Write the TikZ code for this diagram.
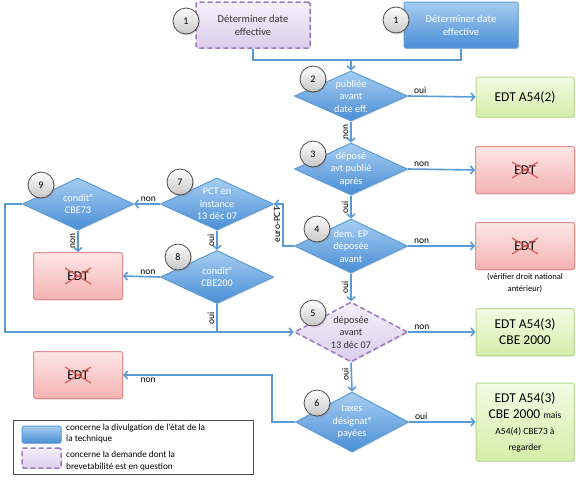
\documentclass[tikz,border=0pt]{standalone}
\usepackage{fontspec}
\setmainfont{Carlito}
\usetikzlibrary{shapes.geometric, arrows.meta, shadows}

\definecolor{bluetop}{HTML}{A6CDF1}
\definecolor{bluebot}{HTML}{4A8ED6}
\definecolor{blueline}{HTML}{5B9BD5}
\definecolor{purpletop}{HTML}{F5EFFA}
\definecolor{purplebot}{HTML}{DCCDEB}
\definecolor{purpleline}{HTML}{9B78C0}
\definecolor{greentop}{HTML}{F4FBE4}
\definecolor{greenbot}{HTML}{D4EDA9}
\definecolor{greenline}{HTML}{B6DA8C}
\definecolor{redtop}{HTML}{FDE7E7}
\definecolor{redbot}{HTML}{F4B2B2}
\definecolor{redline}{HTML}{E58E8E}
\definecolor{crossred}{HTML}{D9534F}

\newcommand\smallfont{\fontsize{9.5}{12.5}\selectfont}

\tikzset{
  shade/.style={drop shadow={opacity=0.2, shadow xshift=1.2pt, shadow yshift=-1.2pt}},
  box/.style={rectangle, rounded corners=1.5pt, line width=1pt, inner sep=0pt, align=center, shade},
  bbox/.style={box, draw=blueline, top color=bluetop, bottom color=bluebot, text=white,
    minimum width=114pt, minimum height=46pt, font=\fontsize{10.5}{13}\selectfont},
  pbox/.style={box, draw=purpleline, dashed, dash pattern=on 5pt off 3pt, line width=1.5pt,
    top color=purpletop, bottom color=purplebot, text=black!80,
    minimum width=114pt, minimum height=46pt, font=\fontsize{10.5}{13}\selectfont},
  okbox/.style={box, draw=greenline, top color=greentop, bottom color=greenbot,
    minimum width=98pt, font=\fontsize{13.5}{16}\selectfont},
  nobox/.style={box, draw=redline, top color=redtop, bottom color=redbot,
    minimum height=47pt, font=\fontsize{13.5}{16}\selectfont},
  decision/.style={diamond, draw=blueline, line width=1pt, top color=bluetop, bottom color=bluebot,
    minimum width=113pt, inner sep=0pt, shade},
  pdecision/.style={decision, draw=purpleline, dashed, dash pattern=on 5pt off 3pt, line width=1.5pt,
    top color=purpletop, bottom color=purplebot},
  dtext/.style={text=white, align=center, inner sep=0pt, font=\fontsize{10.2}{12.5}\selectfont},
  num/.style={circle, draw=black!70, line width=0.8pt, top color=white, bottom color=black!22,
    minimum size=26pt, inner sep=0pt, font=\fontsize{10}{12}\selectfont,
    drop shadow={opacity=0.3, shadow xshift=1.2pt, shadow yshift=-1.5pt}},
  conn/.style={draw=blueline, line width=1.6pt},
  arr/.style={conn, -{Straight Barb[length=3.5pt, width=8pt]}},
  lab/.style={font=\fontsize{9.5}{11}\selectfont, text=black, inner sep=2pt},
  hlab/.style={lab, pos=0.05, above right},
  hlabl/.style={lab, pos=0.05, above left},
  vlab/.style={lab, midway, rotate=90, anchor=south},
  cross/.style={draw=crossred, line width=1.3pt, opacity=0.85},
}

\begin{document}
\begin{tikzpicture}[x=1pt, y=-1pt]
% Fix the page size
\useasboundingbox (0,0) rectangle (580,480);

% Starting boxes
\node[pbox] (b1a) at (253,25) {Déterminer date\\effective};
\node[bbox] (b1b) at (461,25) {Déterminer date\\effective};

% Decisions
\node[decision, minimum height=50pt, label={[dtext]center:publiée\\avant\\date eff.}] (d2) at (351,96) {};
\node[decision, minimum height=52pt, label={[dtext]center:déposé\\avt publié\\après}] (d3) at (351,169) {};
\node[decision, minimum height=54pt, label={[dtext]center:dem. EP\\déposée\\avant}] (d4) at (351,246) {};
\node[pdecision, minimum height=60pt, label={[dtext, text=black!80]center:déposée\\avant\\13 déc 07}] (d5) at (351,332) {};
\node[decision, minimum height=60pt, label={[dtext]center:taxes\\désignat°\\payées}] (d6) at (352,422) {};
\node[decision, minimum height=52pt, label={[dtext]center:PCT en\\instance\\13 déc 07}] (d7) at (217,204) {};
\node[decision, minimum height=53pt, label={[dtext]center:condit°\\CBE200}] (d8) at (217,277) {};
\node[decision, minimum height=52pt, minimum width=111pt, label={[dtext]center:condit°\\CBE73}] (d9) at (78,204) {};

% Outcomes
\node[okbox, minimum height=40pt] (a2) at (525,97) {EDT A54(2)};
\node[nobox, minimum width=99pt] (e3) at (525,170) {EDT};
\node[nobox, minimum width=99pt] (e4) at (525,246) {EDT};
\node[align=center, font=\fontsize{8.5}{12}\selectfont] (n4) at (525,283) {(vérifier droit national\\antérieur)};
\node[okbox, minimum height=47pt] (a5) at (525,332) {EDT A54(3)\\CBE 2000};
\node[okbox, minimum height=78pt] (a6) at (525,422) {EDT A54(3)\\CBE 2000 {\smallfont mais}\\{\smallfont A54(4) CBE73 à}\\{\smallfont regarder}};
\node[nobox, minimum width=89pt] (e9) at (78,276) {EDT};
\node[nobox, minimum width=89pt] (e6) at (78,375) {EDT};

% Cross out the EDT boxes
\foreach \e in {e3,e4,e9,e6}
  \draw[cross] ([shift={(-13,-8)}]\e.center) -- ([shift={(13,8)}]\e.center)
               ([shift={(-13,8)}]\e.center) -- ([shift={(13,-8)}]\e.center);

% Step numbers
\node[num] (c1a) at (186,21) {1};
\node[num] (c1b) at (396,20) {1};
\node[num] (c2) at (313,79) {2};
\node[num] (c3) at (313,154) {3};
\node[num] (c4) at (317,229) {4};
\node[num] (c5) at (313,313) {5};
\node[num] (c6) at (317,403) {6};
\node[num] (c7) at (180,182) {7};
\node[num] (c8) at (178,257) {8};
\node[num] (c9) at (41,185) {9};

% Connectors
\coordinate (j1) at (351,60);
\draw[conn] (b1a.south) |- (j1) -| (b1b.south);
\draw[arr] (j1) -- (d2.north);
\draw[arr] (d2.east) -- node[hlab]{oui} (a2.west);
\draw[arr] (d2.south) -- node[vlab]{non} (d3.north);
\draw[arr] (d3.east) -- node[hlab]{non} (e3.west);
\draw[arr] (d3.south) -- node[vlab]{oui} (d4.north);
\draw[arr] (d4.east) -- node[hlab]{non} (e4.west);
\draw[arr] (d4.south) -- node[vlab]{oui} (d5.north);
\draw[arr] (d5.east) -- node[hlab]{non} (a5.west);
\draw[arr] (d5.south) -- node[vlab, pos=0.4]{oui} (d6.north);
\draw[arr] (d6.east) -- node[hlab]{oui} (a6.west);
\draw[arr] (d4.west) -- ++(-11,0) |- node[vlab, pos=0.25]{euro-PCT} (d7.east);
\draw[arr] (d7.west) -- node[hlabl]{non} (d9.east);
\draw[arr] (d7.south) -- node[vlab]{oui} (d8.north);
\draw[arr] (d8.west) -- node[hlabl]{non} (e9.east);
\draw[arr] (d9.south) -- node[vlab]{non} (e9.north);
\draw[arr] (d9.west) -- ++(-17,0) |- (d5.west);
\draw[conn] (d8.south) -- node[vlab]{oui} (d8.south |- d5.west);
\draw[arr] (d6.west) -- ++(-23,0) |- node[lab, pos=0.95, below right]{non} (e6.east);

% Legend
\node[rectangle, draw=black!70, line width=0.7pt, minimum width=240pt, minimum height=54pt] (leg) at (133,447) {};
\node[box, draw=blueline, top color=bluetop, bottom color=bluebot, minimum width=39pt, minimum height=17pt] (l1) at (41.5,434.5) {};
\node[box, draw=purpleline, dashed, dash pattern=on 5pt off 3pt, line width=1.5pt, top color=purpletop, bottom color=purplebot, minimum width=39pt, minimum height=20pt] (l2) at (41.5,458) {};
\node[anchor=west, align=left, inner sep=0pt, font=\fontsize{9.2}{11.5}\selectfont] (l1t) at (66,433.5) {concerne la divulgation de l’état de la\\la technique};
\node[anchor=west, align=left, inner sep=0pt, font=\fontsize{9.2}{11.5}\selectfont] (l2t) at (66,461) {concerne la demande dont la\\brevetabilité est en question};
\end{tikzpicture}
\end{document}
